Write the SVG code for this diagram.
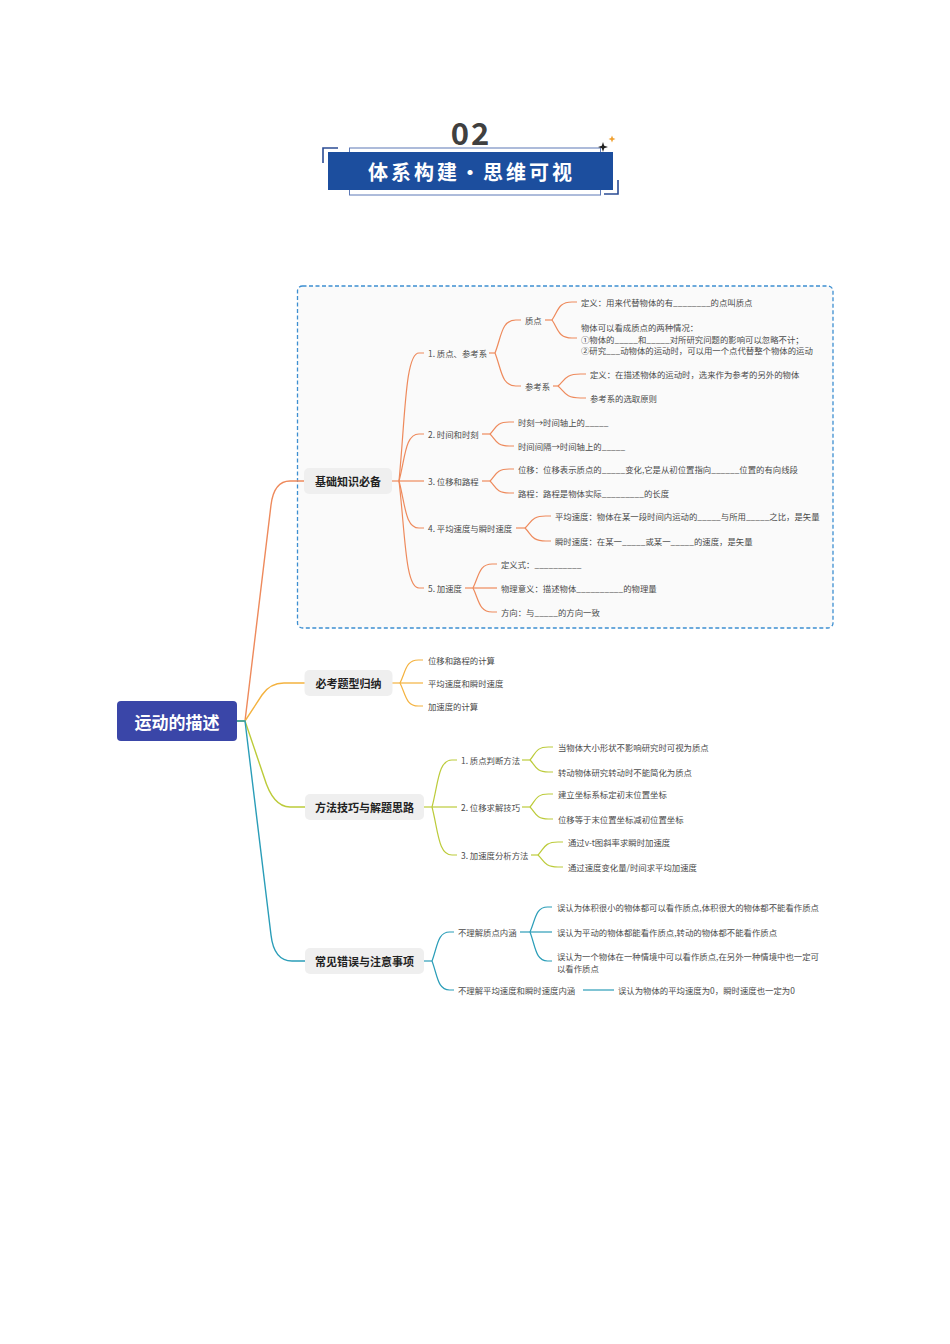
<svg xmlns="http://www.w3.org/2000/svg" width="950" height="1344" viewBox="0 0 950 1344">
<style>
text { font-family: "Noto Sans CJK SC", "Noto Sans", sans-serif; }
.t { font-size: 8.4px; fill: #4a4a4a; dominant-baseline: central; }
.nb { font-size: 11px; font-weight: bold; fill: #222; dominant-baseline: central; text-anchor: middle; }
.box { fill: #efefef; }
.c1 { fill: none; stroke: #EE8A5C; stroke-width: 1.2; }
.c2 { fill: none; stroke: #F4B23F; stroke-width: 1.2; }
.c3 { fill: none; stroke: #BCCB3A; stroke-width: 1.2; }
.c4 { fill: none; stroke: #2A9DB8; stroke-width: 1.2; }
.r { stroke-width: 1.4; }
</style>
<rect width="950" height="1344" fill="#ffffff"/>

<!-- Header -->
<g id="header">
  <text x="471" y="145" font-size="31" font-weight="bold" fill="#404040" text-anchor="middle" letter-spacing="2">02</text>
  <rect x="349.5" y="148" width="251" height="47" fill="none" stroke="#5d79b6" stroke-width="1"/>
  <path d="M323,163 L323,148 L338,148" fill="none" stroke="#2b4c94" stroke-width="1.6"/>
  <path d="M618,180 L618,194 L604,194" fill="none" stroke="#2b4c94" stroke-width="1.6"/>
  <rect x="328" y="152" width="285" height="38" fill="#1C4E9E"/>
  <text x="471.5" y="171" font-size="20" font-weight="bold" fill="#ffffff" text-anchor="middle" dominant-baseline="central" letter-spacing="3">体系构建・思维可视</text>
  <polygon points="603,142 604.2,145.8 608,147 604.2,148.2 603,152 601.8,148.2 598,147 601.8,145.8" fill="#222"/>
  <polygon points="612,135.5 613,138 615.5,139 613,140 612,142.5 611,140 608.5,139 611,138" fill="#f0a030"/>
</g>

<!-- dashed frame -->
<rect id="frame" x="297.5" y="286" width="535.5" height="342" rx="5" fill="#fafafa" stroke="#3d8fd1" stroke-width="1.3" stroke-dasharray="4 2.5"/>

<!-- Connectors -->
<g id="connectors">
  <!-- root to main branches -->
  <path class="c1 r" d="M237,721 L245,721 L271,505 Q274,481 290,481 L304,481"/>
  <path class="c2 r" d="M237,721 L245,721 L262,695 Q270,683 284,683 L305,683"/>
  <path class="c3 r" d="M237,721 L245,721 L264,777 Q273,807 290,807 L305,807"/>
  <path class="c4 r" d="M237,721 L245,721 L271,935 Q274,961 292,961 L305,961"/>

  <!-- branch 1 -->
  <path class="c1" d="M392,481 L399,481"/>
  <path class="c1" d="M399,481 C405.25,417 405.25,353 419,353 L424,353"/>
  <path class="c1" d="M399,481 C405.25,457.5 405.25,434 419,434 L424,434"/>
  <path class="c1" d="M399,481 L424,481"/>
  <path class="c1" d="M399,481 C405.25,504.5 405.25,528 419,528 L424,528"/>
  <path class="c1" d="M399,481 C405.25,534.5 405.25,588 419,588 L424,588"/>

  <path class="c1" d="M489,353 L495,353"/>
  <path class="c1" d="M495,353 C501.5,336.5 501.5,320 515.8,320 L521,320"/>
  <path class="c1" d="M495,353 C501.5,369.5 501.5,386 515.8,386 L521,386"/>

  <path class="c1" d="M545,320 L552,320"/>
  <path class="c1" d="M552,320 C558.25,311 558.25,302 572,302 L577,302"/>
  <path class="c1" d="M552,320 C558.25,329 558.25,338 572,338 L577,338"/>

  <path class="c1" d="M553,386 L558,386"/>
  <path class="c1" d="M558,386 C565,380 565,374 580.4,374 L586,374"/>
  <path class="c1" d="M558,386 C565,392 565,398 580.4,398 L586,398"/>

  <path class="c1" d="M482,434 L490,434"/>
  <path class="c1" d="M490,434 C496,428 496,422 509.2,422 L514,422"/>
  <path class="c1" d="M490,434 C496,440 496,446 509.2,446 L514,446"/>

  <path class="c1" d="M482,481 L490,481"/>
  <path class="c1" d="M490,481 C496,475 496,469 509.2,469 L514,469"/>
  <path class="c1" d="M490,481 C496,487 496,493 509.2,493 L514,493"/>

  <path class="c1" d="M516,528 L525,528"/>
  <path class="c1" d="M525,528 C531.5,522 531.5,516 545.8,516 L551,516"/>
  <path class="c1" d="M525,528 C531.5,534.5 531.5,541 545.8,541 L551,541"/>

  <path class="c1" d="M465,588 L473,588"/>
  <path class="c1" d="M473,588 C479,576 479,564 492.2,564 L497,564"/>
  <path class="c1" d="M473,588 L497,588"/>
  <path class="c1" d="M473,588 C479,600 479,612 492.2,612 L497,612"/>

  <!-- branch 2 -->
  <path class="c2" d="M392,683 L400,683"/>
  <path class="c2" d="M400,683 C405.75,671.5 405.75,660 418.4,660 L423,660"/>
  <path class="c2" d="M400,683 L423,683"/>
  <path class="c2" d="M400,683 C405.75,694.5 405.75,706 418.4,706 L423,706"/>

  <!-- branch 3 -->
  <path class="c3" d="M424,807 L432,807"/>
  <path class="c3" d="M432,807 C438.25,783.5 438.25,760 452,760 L457,760"/>
  <path class="c3" d="M432,807 L457,807"/>
  <path class="c3" d="M432,807 C438.25,831 438.25,855 452,855 L457,855"/>

  <path class="c3" d="M522,760 L530,760"/>
  <path class="c3" d="M530,760 C535.75,753.5 535.75,747 548.4,747 L553,747"/>
  <path class="c3" d="M530,760 C535.75,766 535.75,772 548.4,772 L553,772"/>

  <path class="c3" d="M522,807 L530,807"/>
  <path class="c3" d="M530,807 C535.75,800.5 535.75,794 548.4,794 L553,794"/>
  <path class="c3" d="M530,807 C535.75,813 535.75,819 548.4,819 L553,819"/>

  <path class="c3" d="M531,855 L538,855"/>
  <path class="c3" d="M538,855 C544.25,848.5 544.25,842 558,842 L563,842"/>
  <path class="c3" d="M538,855 C544.25,861 544.25,867 558,867 L563,867"/>

  <!-- branch 4 -->
  <path class="c4" d="M424,961 L432,961"/>
  <path class="c4" d="M432,961 C437.5,946.5 437.5,932 449.6,932 L454,932"/>
  <path class="c4" d="M432,961 C437.5,975.5 437.5,990 449.6,990 L454,990"/>

  <path class="c4" d="M520,932 L530,932"/>
  <path class="c4" d="M530,932 C535.5,919.5 535.5,907 547.6,907 L552,907"/>
  <path class="c4" d="M530,932 L552,932"/>
  <path class="c4" d="M530,932 C535.5,946.5 535.5,961 547.6,961 L552,961"/>

  <path class="c4" d="M583,990 L614,990"/>
</g>

<!-- Root -->
<g id="root">
  <rect x="117" y="701" width="120" height="40" rx="4" fill="#3A46A8"/>
  <text x="177" y="721" font-size="17" font-weight="bold" fill="#ffffff" text-anchor="middle" dominant-baseline="central">运动的描述</text>
</g>

<!-- Main nodes -->
<g id="n-jichu">
  <rect class="box" x="304" y="468" width="88" height="26" rx="5"/>
  <text class="nb" x="348" y="481">基础知识必备</text>
</g>
<g id="n-bikao">
  <rect class="box" x="304.5" y="670" width="88" height="26" rx="5"/>
  <text class="nb" x="348.5" y="683">必考题型归纳</text>
</g>
<g id="n-fangfa">
  <rect class="box" x="305" y="794" width="119" height="26" rx="5"/>
  <text class="nb" x="364.5" y="807">方法技巧与解题思路</text>
</g>
<g id="n-cuowu">
  <rect class="box" x="305" y="948" width="119" height="26" rx="5"/>
  <text class="nb" x="364.5" y="961">常见错误与注意事项</text>
</g>

<!-- Branch 1 subnodes -->
<g id="b1-1"><text class="t" x="428" y="353">1. 质点、参考系</text></g>
<g id="b1-1-1"><text class="t" x="525" y="320">质点</text></g>
<g id="b1-1-1-1"><text class="t" x="581" y="302">定义：用来代替物体的有________的点叫质点</text></g>
<g id="b1-1-1-2">
  <text class="t" x="581" y="327">物体可以看成质点的两种情况：</text>
  <text class="t" x="581" y="338.5">①物体的_____和_____对所研究问题的影响可以忽略不计；</text>
  <text class="t" x="581" y="350">②研究___动物体的运动时，可以用一个点代替整个物体的运动</text>
</g>
<g id="b1-1-2"><text class="t" x="525" y="386">参考系</text></g>
<g id="b1-1-2-1"><text class="t" x="590" y="374">定义：在描述物体的运动时，选来作为参考的另外的物体</text></g>
<g id="b1-1-2-2"><text class="t" x="590" y="398">参考系的选取原则</text></g>

<g id="b1-2"><text class="t" x="428" y="434">2. 时间和时刻</text></g>
<g id="b1-2-1"><text class="t" x="518" y="422">时刻→时间轴上的_____</text></g>
<g id="b1-2-2"><text class="t" x="518" y="446">时间间隔→时间轴上的_____</text></g>

<g id="b1-3"><text class="t" x="428" y="481">3. 位移和路程</text></g>
<g id="b1-3-1"><text class="t" x="518" y="469">位移：位移表示质点的_____变化,它是从初位置指向______位置的有向线段</text></g>
<g id="b1-3-2"><text class="t" x="518" y="493">路程：路程是物体实际_________的长度</text></g>

<g id="b1-4"><text class="t" x="428" y="528">4. 平均速度与瞬时速度</text></g>
<g id="b1-4-1"><text class="t" x="555" y="516">平均速度：物体在某一段时间内运动的_____与所用_____之比，是矢量</text></g>
<g id="b1-4-2"><text class="t" x="555" y="541">瞬时速度：在某一_____或某一_____的速度，是矢量</text></g>

<g id="b1-5"><text class="t" x="428" y="588">5. 加速度</text></g>
<g id="b1-5-1"><text class="t" x="501" y="564">定义式：__________</text></g>
<g id="b1-5-2"><text class="t" x="501" y="588">物理意义：描述物体__________的物理量</text></g>
<g id="b1-5-3"><text class="t" x="501" y="612">方向：与_____的方向一致</text></g>

<!-- Branch 2 subnodes -->
<g id="b2-1"><text class="t" x="428" y="660">位移和路程的计算</text></g>
<g id="b2-2"><text class="t" x="428" y="683">平均速度和瞬时速度</text></g>
<g id="b2-3"><text class="t" x="428" y="706">加速度的计算</text></g>

<!-- Branch 3 subnodes -->
<g id="b3-1"><text class="t" x="461" y="760">1. 质点判断方法</text></g>
<g id="b3-1-1"><text class="t" x="558" y="747">当物体大小形状不影响研究时可视为质点</text></g>
<g id="b3-1-2"><text class="t" x="558" y="772">转动物体研究转动时不能简化为质点</text></g>
<g id="b3-2"><text class="t" x="461" y="807">2. 位移求解技巧</text></g>
<g id="b3-2-1"><text class="t" x="558" y="794">建立坐标系标定初末位置坐标</text></g>
<g id="b3-2-2"><text class="t" x="558" y="819">位移等于末位置坐标减初位置坐标</text></g>
<g id="b3-3"><text class="t" x="461" y="855">3. 加速度分析方法</text></g>
<g id="b3-3-1"><text class="t" x="568" y="842">通过v-t图斜率求瞬时加速度</text></g>
<g id="b3-3-2"><text class="t" x="568" y="867">通过速度变化量/时间求平均加速度</text></g>

<!-- Branch 4 subnodes -->
<g id="b4-1"><text class="t" x="458" y="932">不理解质点内涵</text></g>
<g id="b4-1-1"><text class="t" x="557" y="907">误认为体积很小的物体都可以看作质点,体积很大的物体都不能看作质点</text></g>
<g id="b4-1-2"><text class="t" x="557" y="932">误认为平动的物体都能看作质点,转动的物体都不能看作质点</text></g>
<g id="b4-1-3">
  <text class="t" x="557" y="956">误认为一个物体在一种情境中可以看作质点,在另外一种情境中也一定可</text>
  <text class="t" x="557" y="967.5">以看作质点</text>
</g>
<g id="b4-2"><text class="t" x="458" y="990">不理解平均速度和瞬时速度内涵</text></g>
<g id="b4-2-1"><text class="t" x="618" y="990">误认为物体的平均速度为0，瞬时速度也一定为0</text></g>
</svg>
